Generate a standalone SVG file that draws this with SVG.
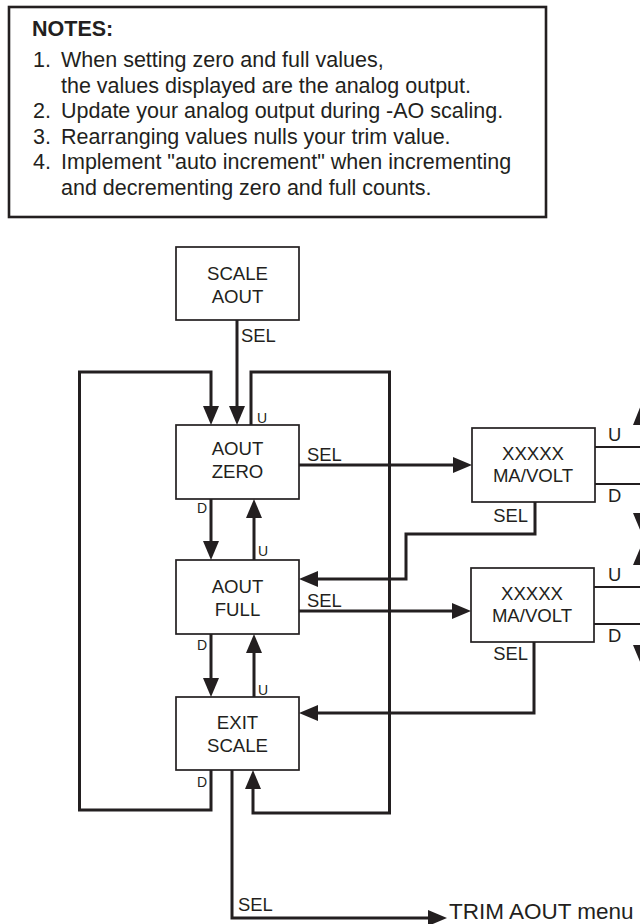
<svg xmlns="http://www.w3.org/2000/svg" width="640" height="924" viewBox="0 0 640 924">
<style>
text{font-family:"Liberation Sans",Arial,sans-serif;fill:#231f20}
.n{font-size:21.5px}
.nb{font-size:21.5px;font-weight:bold}
.t{font-size:18.6px;text-anchor:middle}
.l{font-size:18.4px}
.s{font-size:14px}
.box{fill:#fff;stroke:#231f20;stroke-width:1.7}
.c{fill:none;stroke:#231f20;stroke-width:3;marker-end:url(#ah)}
.thin{fill:none;stroke:#231f20;stroke-width:2}
.ar{fill:#231f20}
</style>
<defs>
<marker id="ah" markerUnits="userSpaceOnUse" markerWidth="20" markerHeight="16" refX="0" refY="8" orient="auto">
<path d="M0,0 L19,8 L0,16 z" fill="#231f20"/>
</marker>
</defs>
<g id="notes">
<rect x="9" y="7" width="537" height="210" fill="#fff" stroke="#231f20" stroke-width="2.6"/>
<text class="nb" x="32" y="36">NOTES:</text>
<text class="n" x="33" y="67">1.</text><text class="n" x="61" y="67">When setting zero and full values,</text>
<text class="n" x="61" y="92.5">the values displayed are the analog output.</text>
<text class="n" x="33" y="118">2.</text><text class="n" x="61" y="118">Update your analog output during -AO scaling.</text>
<text class="n" x="33" y="143.5">3.</text><text class="n" x="61" y="143.5">Rearranging values nulls your trim value.</text>
<text class="n" x="33" y="169">4.</text><text class="n" x="61" y="169">Implement "auto increment" when incrementing</text>
<text class="n" x="61" y="194.5">and decrementing zero and full counts.</text>
</g>
<g id="scale-aout">
<rect class="box" x="176" y="247" width="123" height="73"/>
<text class="t" x="237.5" y="280">SCALE</text>
<text class="t" x="237.5" y="303">AOUT</text>
</g>
<g id="aout-zero">
<rect class="box" x="176" y="425" width="123" height="74"/>
<text class="t" x="237.5" y="455">AOUT</text>
<text class="t" x="237.5" y="478">ZERO</text>
</g>
<g id="aout-full">
<rect class="box" x="176" y="560" width="123" height="74"/>
<text class="t" x="237.5" y="593">AOUT</text>
<text class="t" x="237.5" y="616">FULL</text>
</g>
<g id="exit-scale">
<rect class="box" x="176" y="697" width="123" height="73"/>
<text class="t" x="237.5" y="729">EXIT</text>
<text class="t" x="237.5" y="752">SCALE</text>
</g>
<g id="zero-value">
<rect class="box" x="472" y="428" width="123" height="74"/>
<text class="t" x="533" y="460">XXXXX</text>
<text class="t" x="533" y="482">MA/VOLT</text>
</g>
<g id="full-value">
<rect class="box" x="471" y="568" width="123" height="74"/>
<text class="t" x="532" y="600">XXXXX</text>
<text class="t" x="532" y="622">MA/VOLT</text>
</g>
<g id="connectors">
<path class="c" d="M237,320 V406"/>
<path class="c" d="M211,770 V810 H79.5 V372 H211 V406"/>
<path class="c" d="M251,425 V372 H389.5 V813 H253 V789"/>
<path class="c" d="M299,465 H453"/>
<path class="c" d="M535,502 V534 H406 V579 H318"/>
<path class="c" d="M299,611 H452"/>
<path class="c" d="M534,642 V713 H318"/>
<path class="c" d="M211,499 V541"/>
<path class="c" d="M211,634 V678"/>
<path class="c" d="M254,560 V518"/>
<path class="c" d="M254,697 V653"/>
<path class="c" d="M232,770 V918 H428"/>
<path class="thin" d="M595,447 H640 M595,484 H640 M594,587 H640 M594,624 H640"/>
<polygon class="ar" points="633,425 641,405 649,425"/>
<polygon class="ar" points="633,513 641,532 649,513"/>
<polygon class="ar" points="633,565 641,546 649,565"/>
<polygon class="ar" points="633,645 641,664 649,645"/>
</g>
<g id="labels">
<text class="l" x="241" y="342">SEL</text>
<text class="s" x="257" y="423">U</text>
<text class="l" x="307" y="461">SEL</text>
<text class="l" x="528" y="522" text-anchor="end">SEL</text>
<text class="s" x="197" y="513">D</text>
<text class="s" x="258" y="556">U</text>
<text class="l" x="307" y="607">SEL</text>
<text class="l" x="528" y="660" text-anchor="end">SEL</text>
<text class="s" x="197" y="650">D</text>
<text class="s" x="258" y="695">U</text>
<text class="s" x="197" y="787">D</text>
<text class="l" x="238" y="911">SEL</text>
<text x="449" y="919" font-size="22.5">TRIM AOUT menu</text>
<text class="l" x="608" y="441">U</text>
<text class="l" x="608" y="502">D</text>
<text class="l" x="608" y="581">U</text>
<text class="l" x="608" y="642">D</text>
</g>
</svg>
